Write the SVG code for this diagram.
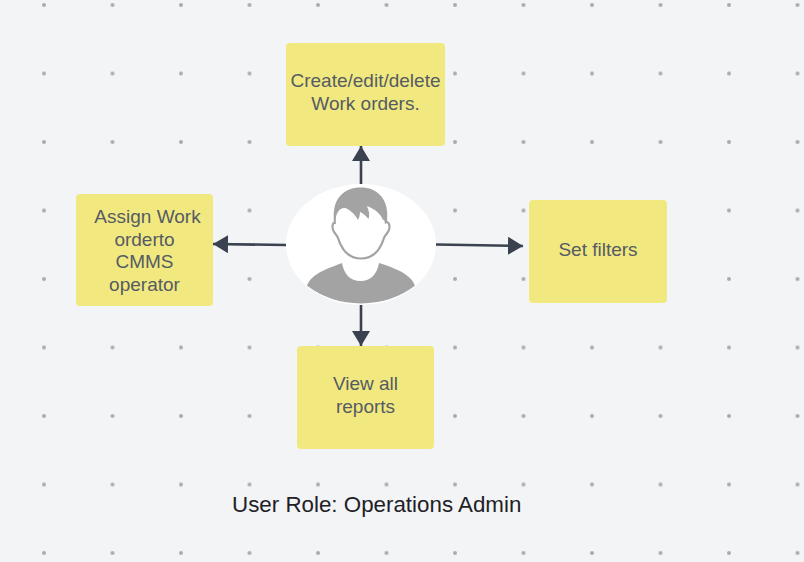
<svg xmlns="http://www.w3.org/2000/svg" width="804" height="562" viewBox="0 0 804 562">
<style>
.n{fill:#f1e980}
.t{font-family:"Liberation Sans",Arial,sans-serif;font-size:19px;fill:#565b63;text-anchor:middle}
.c{stroke:#3a414f;stroke-width:2.6;fill:none;marker-end:url(#a)}
.g{fill:#a3a3a3}
</style>
<defs>
<pattern id="d" x="-24.5" y="5" width="68.5" height="68.5" patternUnits="userSpaceOnUse"><circle cx="68.5" cy="0" r="2" fill="#a9abb1"/><circle cx="0" cy="68.5" r="2" fill="#a9abb1"/><circle cx="68.5" cy="68.5" r="2" fill="#a9abb1"/><circle cx="0" cy="0" r="2" fill="#a9abb1"/></pattern>
<marker id="a" markerUnits="userSpaceOnUse" markerWidth="16" markerHeight="18" refX="15" refY="9" orient="auto"><path d="M0 0L15 9L0 18Z" fill="#3a414f"/></marker>
<clipPath id="e"><ellipse cx="361" cy="244.5" rx="75" ry="59"/></clipPath>
</defs>
<rect width="804" height="562" fill="#f2f4f6"/>
<rect width="804" height="562" fill="url(#d)"/>
<g id="connectors">
<path class="c" d="M361 184V146"/>
<path class="c" d="M286 245L213 244"/>
<path class="c" d="M436 244.500L523 246"/>
<path class="c" d="M361 305V346"/>
</g>
<g id="top"><rect class="n" x="286" y="43" width="159" height="103" rx="4"/><text class="t" x="365.500" y="87">Create/edit/delete</text><text class="t" x="365.500" y="110">Work orders.</text></g>
<g id="left"><rect class="n" x="76" y="194" width="137" height="112" rx="4"/><text class="t" x="147.500" y="223">Assign Work</text><text class="t" x="144.500" y="246">orderto</text><text class="t" x="144.500" y="268">CMMS</text><text class="t" x="144.500" y="291">operator</text></g>
<g id="right"><rect class="n" x="529" y="200" width="138" height="103" rx="4"/><text class="t" x="598" y="256">Set filters</text></g>
<g id="bottom"><rect class="n" x="297" y="346" width="137" height="103" rx="4"/><text class="t" x="365.500" y="390">View all</text><text class="t" x="365.500" y="413">reports</text></g>
<g id="user">
<ellipse cx="361" cy="244.500" rx="75" ry="60.500" fill="#fff"/>
<g clip-path="url(#e)">
<path class="g" d="M306.500 287C310 276 320 271 342 263C344 274 350 281 360.500 281C371 281 377 274 379 263C401 270 412 276 415.500 287V310H306.500Z"/>
</g>
<path d="M335 222C332 223 332 228 333.500 231C335 234 337 235 338 238C342 251 350 258.500 361 258.500C372 258.500 380 251 384 238C385 235 387 234 388.500 231C390 228 390 223 387 222" fill="none" stroke="#a3a3a3" stroke-width="2.200"/>
<path class="g" d="M334 223C333 212 334 202 341 195C347 189 354 187.500 361 187.500C369 187.500 376 190 381 196C387 203 388 212 387 223L385 224C384.500 220 384 219 383 220C381 215 377 210 367 206C369 211 370 215 368.500 219C365 215 363 213 360 212C360 215 359 218 358 220C355 214 349 209 345 208C341 208 339 210 338 212C336 214 335.500 220 336 224L334.500 224Z"/>
</g>
<g id="caption"><text x="232" y="512" font-family="'Liberation Sans',Arial,sans-serif" font-size="22.350" fill="#1f2126">User Role: Operations Admin</text></g>
</svg>
